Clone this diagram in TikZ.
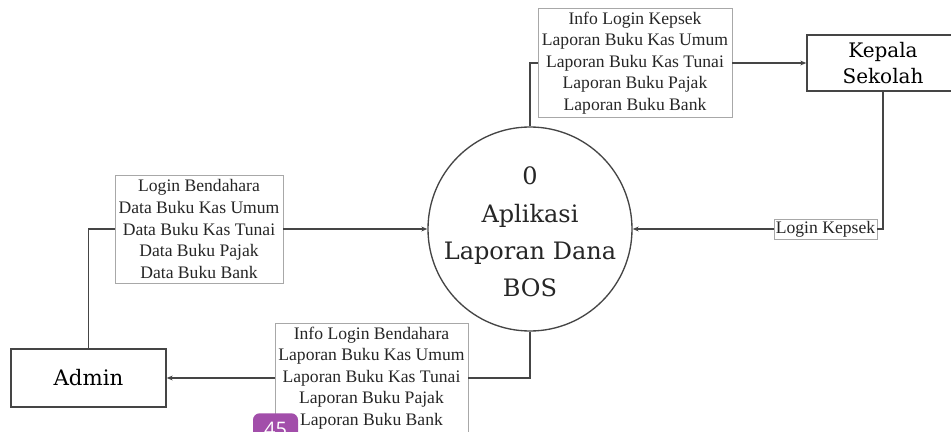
\documentclass[tikz,border=0pt]{standalone}
\usepackage{fontspec}
\setmainfont{Liberation Serif}
\newfontfamily\slab{DejaVu Serif}
\newfontfamily\badgefont{Open Sans}
\usetikzlibrary{arrows.meta}
\definecolor{linec}{HTML}{454545}
\definecolor{boxc}{HTML}{A8A8A8}
\definecolor{badgec}{HTML}{A24EAA}
\begin{document}
\begin{tikzpicture}[x=0.75pt,y=-0.75pt,
  lbl/.style={draw=boxc, line width=0.6pt, fill=white, inner sep=0pt, align=center,
    font=\fontsize{13.2}{16.2}\selectfont, text=black!85},
  ent/.style={draw=linec, line width=1.1pt, fill=white, inner sep=0pt, align=center,
    font=\slab\fontsize{15}{19.5}\selectfont},
  conn/.style={draw=linec, line width=1.1pt},
  arr/.style={conn, -{Stealth[length=4.5pt,width=3.6pt]}}]
\useasboundingbox (0,0) rectangle (951,432);
\clip (0,0) rectangle (951,432);
\fill[white] (0,0) rectangle (951,432);
% process
\node[circle, draw=linec, line width=1pt, minimum size=153pt, inner sep=0pt] (p) at (530,229) {};
\node[font=\slab\fontsize{18}{28}\selectfont, align=center, text=black!85] (pt) at (530,232) {0\\Aplikasi\\Laporan Dana\\BOS};
% entities
\node[ent, minimum width=114pt, minimum height=42pt] (kep) at (883,63) {Kepala\\Sekolah};
\node[ent, minimum width=116.25pt, minimum height=43.5pt, font=\slab\fontsize{16}{19}\selectfont] (adm) at (88.5,378) {Admin};
% flow labels
\node[lbl, minimum width=145.5pt, minimum height=81.75pt] (tl) at (635,63) {Info Login Kepsek\\Laporan Buku Kas Umum\\Laporan Buku Kas Tunai\\Laporan Buku Pajak\\Laporan Buku Bank};
\node[lbl, minimum width=126pt, minimum height=81pt] (ll) at (199,229) {Login Bendahara\\Data Buku Kas Umum\\Data Buku Kas Tunai\\Data Buku Pajak\\Data Buku Bank};
\node[lbl, minimum width=144.75pt, minimum height=82.5pt] (bl) at (371.5,378) {Info Login Bendahara\\Laporan Buku Kas Umum\\Laporan Buku Kas Tunai\\Laporan Buku Pajak\\Laporan Buku Bank};
\node[lbl, minimum width=77.25pt, minimum height=15pt] (lk) at (825.5,229) {Login Kepsek};
% connectors
\draw[conn] (p.north) |- (tl.west);
\draw[arr] (tl.east) -- (kep.west);
\draw[conn] (kep.south) |- (lk.east);
\draw[arr] (lk.west) -- (p.east);
\draw[conn] (adm.north) |- (ll.west);
\draw[arr] (ll.east) -- (p.west);
\draw[conn] (p.south) |- (bl.east);
\draw[arr] (bl.west) -- (adm.east);
% page badge
\node[fill=badgec, rounded corners=5pt, minimum width=33.75pt, minimum height=24pt, inner sep=0pt,
  text=white, font=\badgefont\fontsize{15}{15}\selectfont, anchor=north] (badge) at (275.5,413) {45};
\end{tikzpicture}
\end{document}
